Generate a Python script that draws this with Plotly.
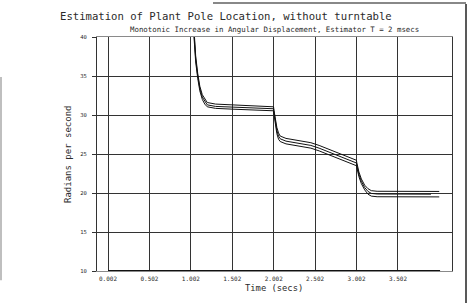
import plotly.graph_objects as go

# ---- data ----
time_s = [1.002, 1.02, 1.04, 1.06, 1.085, 1.11, 1.14, 1.17, 1.2, 1.3, 1.5, 1.7, 1.9, 2.0,
          2.005, 2.02, 2.04, 2.06, 2.08, 2.15, 2.25, 2.35, 2.45, 2.55, 2.65, 2.75, 2.85, 2.95, 3.0,
          3.005, 3.03, 3.06, 3.1, 3.14, 3.18, 3.25, 3.5, 3.75, 4.0]
est_upper = [70, 48, 41, 37.6, 35.3, 33.7, 32.6, 32.0, 31.6, 31.4, 31.3, 31.2, 31.1, 31.05,
             30.6, 29.4, 28.4, 27.7, 27.3, 27.0, 26.8, 26.65, 26.45, 26.1, 25.7, 25.3, 24.9, 24.45, 24.2,
             23.9, 22.7, 21.8, 21.0, 20.55, 20.3, 20.22, 20.2, 20.2, 20.2]
est_middle = [70, 47, 40.5, 37.2, 35.0, 33.4, 32.3, 31.7, 31.3, 31.1, 31.0, 30.9, 30.85, 30.8,
              30.4, 29.1, 28.0, 27.3, 26.95, 26.65, 26.45, 26.3, 26.1, 25.75, 25.35, 24.95, 24.55, 24.1, 23.85,
              23.6, 22.4, 21.5, 20.7, 20.2, 19.95, 19.87, 19.85, 19.85, 19.85]
est_lower = [70, 46, 40, 36.8, 34.7, 33.1, 32.0, 31.4, 31.05, 30.85, 30.75, 30.65, 30.58, 30.54,
             30.1, 28.8, 27.6, 26.9, 26.6, 26.3, 26.1, 25.95, 25.75, 25.4, 25.0, 24.6, 24.2, 23.75, 23.5,
             23.3, 22.1, 21.2, 20.4, 19.85, 19.6, 19.52, 19.5, 19.5, 19.5]
middle_end = 3.9
base_x = [0.002, 4.01]
base_y = [10, 10]
x_ticks = [0.002, 0.502, 1.002, 1.502, 2.002, 2.502, 3.002, 3.502]
x_ticktext = ["0.002", "0.502", "1.002", "1.502", "2.002", "2.502", "3.002", "3.502"]
y_ticks = [10, 15, 20, 25, 30, 35, 40]

FONT = "DejaVu Sans Mono"
INK = "#2a2a2a"

# plot area in pixels (for placing annotations/shapes in paper coordinates)
L, R, T, B = 97, 452, 37, 270.7
W, H = R - L, B - T


def px(xp):
    return (xp - L) / W


def py(yp):
    return (B - yp) / H


fig = go.Figure()
line_style = dict(color="#111111", width=1)
fig.add_trace(go.Scatter(x=time_s, y=est_upper, mode="lines", line=line_style))
mid_x = [t for t in time_s if t <= middle_end] + [middle_end]
mid_y = [v for t, v in zip(time_s, est_middle) if t <= middle_end] + [est_middle[-1]]
fig.add_trace(go.Scatter(x=mid_x, y=mid_y, mode="lines", line=line_style))
fig.add_trace(go.Scatter(x=time_s, y=est_lower, mode="lines", line=line_style))
fig.add_trace(go.Scatter(x=base_x, y=base_y, mode="lines", line=dict(color="#111111", width=2.2)))

fig.update_layout(
    width=471, height=303,
    margin=dict(l=L, r=471 - R, t=T, b=303 - B),
    paper_bgcolor="white", plot_bgcolor="white",
    showlegend=False,
    font=dict(family=FONT, color=INK),
    xaxis=dict(range=[-0.131, 4.154], tickvals=x_ticks, ticktext=x_ticktext,
               showgrid=True, gridcolor="#333333", gridwidth=1,
               showline=True, linecolor="#8a8a8a", linewidth=1, mirror=True,
               ticks="", tickfont=dict(size=6, family=FONT, color=INK),
               zeroline=False, ticklabelstandoff=2),
    yaxis=dict(range=[10, 40], tickvals=y_ticks,
               showgrid=True, gridcolor="#333333", gridwidth=1,
               showline=True, linecolor="#333333", linewidth=1, mirror=True,
               ticks="outside", ticklen=4, tickcolor="#333333",
               tickfont=dict(size=5.5, family=FONT, color=INK),
               zeroline=False, ticklabelstandoff=4),
    annotations=[
        dict(text="Estimation of Plant Pole Location, without turntable",
             x=px(225.5), y=py(16), xref="paper", yref="paper", showarrow=False,
             font=dict(size=10.6, family=FONT, color=INK), xanchor="center", yanchor="middle"),
        dict(text="Monotonic Increase in Angular Displacement, Estimator T = 2 msecs",
             x=px(274), y=py(30), xref="paper", yref="paper", showarrow=False,
             font=dict(size=7.4, family=FONT, color=INK), xanchor="center", yanchor="middle"),
        dict(text="Radians per second", textangle=-90,
             x=px(68), y=0.5, xref="paper", yref="paper", showarrow=False,
             font=dict(size=9, family=FONT, color=INK), xanchor="center", yanchor="middle"),
        dict(text="Time (secs)",
             x=px(274), y=py(288), xref="paper", yref="paper", showarrow=False,
             font=dict(size=8.8, family=FONT, color=INK), xanchor="center", yanchor="middle"),
    ],
    shapes=[
        dict(type="line", xref="paper", yref="paper",
             x0=px(466), x1=px(466), y0=py(4), y1=py(303),
             line=dict(color="#222222", width=1.5)),
        dict(type="line", xref="paper", yref="paper",
             x0=px(213), x1=px(466), y0=py(3), y1=py(3),
             line=dict(color="#888888", width=2)),
        dict(type="line", xref="paper", yref="paper",
             x0=px(1), x1=px(1), y0=py(77), y1=py(280),
             line=dict(color="#aaaaaa", width=1.5)),
    ],
)

fig.write_html("out.html")
